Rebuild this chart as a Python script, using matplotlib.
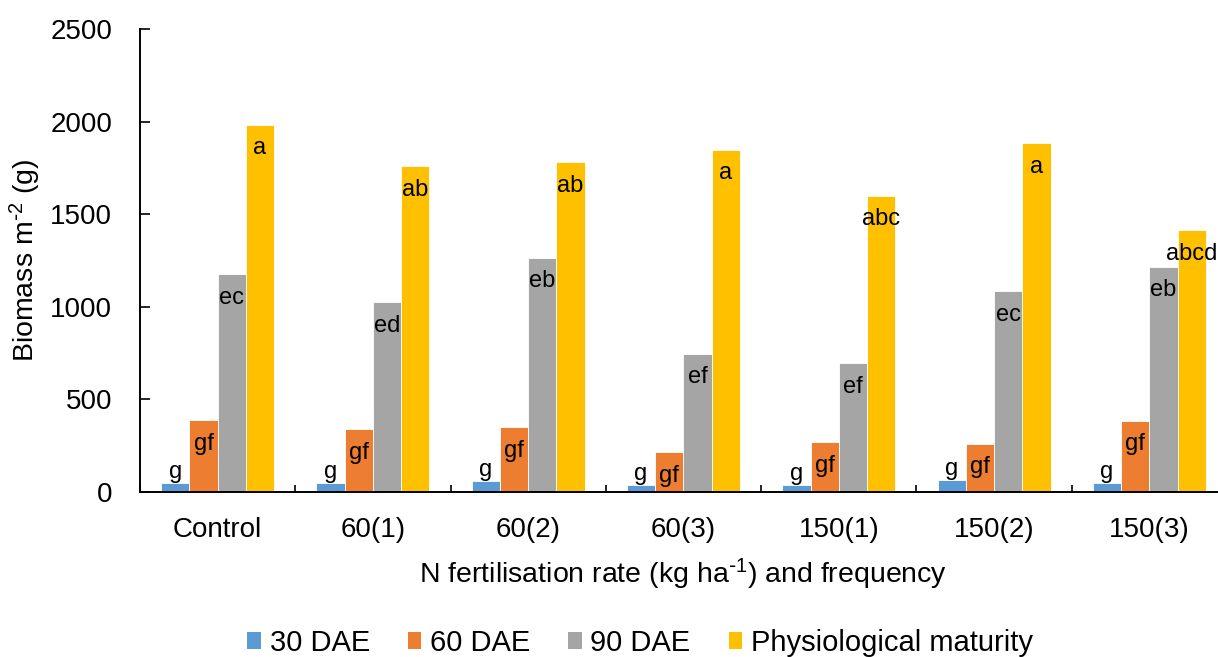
import numpy as np
import matplotlib
matplotlib.use('Agg')
import matplotlib.pyplot as plt
from matplotlib.patches import Patch

plt.rcParams['font.family'] = ['Liberation Sans', 'DejaVu Sans']
plt.rcParams['mathtext.default'] = 'regular'

# data
groups = ['Control', '60(1)', '60(2)', '60(3)', '150(1)', '150(2)', '150(3)']
series = ['30 DAE', '60 DAE', '90 DAE', 'Physiological maturity']
dae30 = [45, 45, 58, 36, 36, 63, 47]
dae60 = [387, 337, 349, 214, 268, 259, 383]
dae90 = [1175, 1023, 1266, 747, 695, 1084, 1215]
pm = [1985, 1759, 1780, 1850, 1600, 1884, 1413]
lab30 = ['g'] * 7
lab60 = ['gf'] * 7
lab90 = ['ec', 'ed', 'eb', 'ef', 'ef', 'ec', 'eb']
labpm = ['a', 'ab', 'ab', 'a', 'abc', 'a', 'abcd']

colors = ['#5B9BD5', '#ED7D31', '#A5A5A5', '#FFC000']

fig = plt.figure(figsize=(12.18, 6.57), dpi=100)
ax = fig.add_axes([0.1149, 0.2516, 0.8925, 0.7038])

x = np.arange(len(groups))
w = 0.182
vals = [dae30, dae60, dae90, pm]
labs = [lab30, lab60, lab90, labpm]
for i in range(4):
    xs = x + (i - 1.5) * w
    ax.bar(xs, vals[i], width=w, color=colors[i], edgecolor='white', linewidth=0.6)
    for xx, v, t in zip(xs, vals[i], labs[i]):
        if i == 0:
            ax.annotate(t, (xx, v), xytext=(0, 0), textcoords='offset points',
                        ha='center', va='bottom', fontsize=17)
        else:
            ax.annotate(t, (xx, v), xytext=(0, -9), textcoords='offset points',
                        ha='center', va='top', fontsize=17)

ax.set_xlim(-0.5, 6.5)
ax.set_ylim(0, 2500)
ax.set_yticks(np.arange(0, 2501, 500))
ax.tick_params(axis='y', direction='in', length=7, width=1.2, labelsize=20, pad=20)

# ticks between groups, labels at group centres
ax.set_xticks(np.arange(-0.5, 7, 1))
ax.set_xticklabels([])
ax.tick_params(axis='x', which='major', direction='in', length=5, width=1.2)
ax.set_xticks(x, minor=True)
ax.set_xticklabels(groups, minor=True)
ax.tick_params(axis='x', which='minor', length=0, labelsize=20, pad=18)

for s in ['top', 'right']:
    ax.spines[s].set_visible(False)
ax.spines['left'].set_linewidth(1.4)
ax.spines['bottom'].set_linewidth(1.4)

ax.set_xlabel(r'N fertilisation rate (kg ha$^{\text{-}1}$) and frequency', fontsize=20.5, labelpad=10)
ax.set_ylabel(r'Biomass m$^{\text{-}2}$ (g)', fontsize=20.5, labelpad=5)

handles = [Patch(facecolor=c) for c in colors]
fig.legend(handles, series, loc='center', bbox_to_anchor=(0.5255, 0.022), ncol=4,
           frameon=False, fontsize=21, handlelength=0.46, handleheight=0.5,
           handletextpad=0.3, columnspacing=1.3)

fig.savefig('out.png', dpi=100)
